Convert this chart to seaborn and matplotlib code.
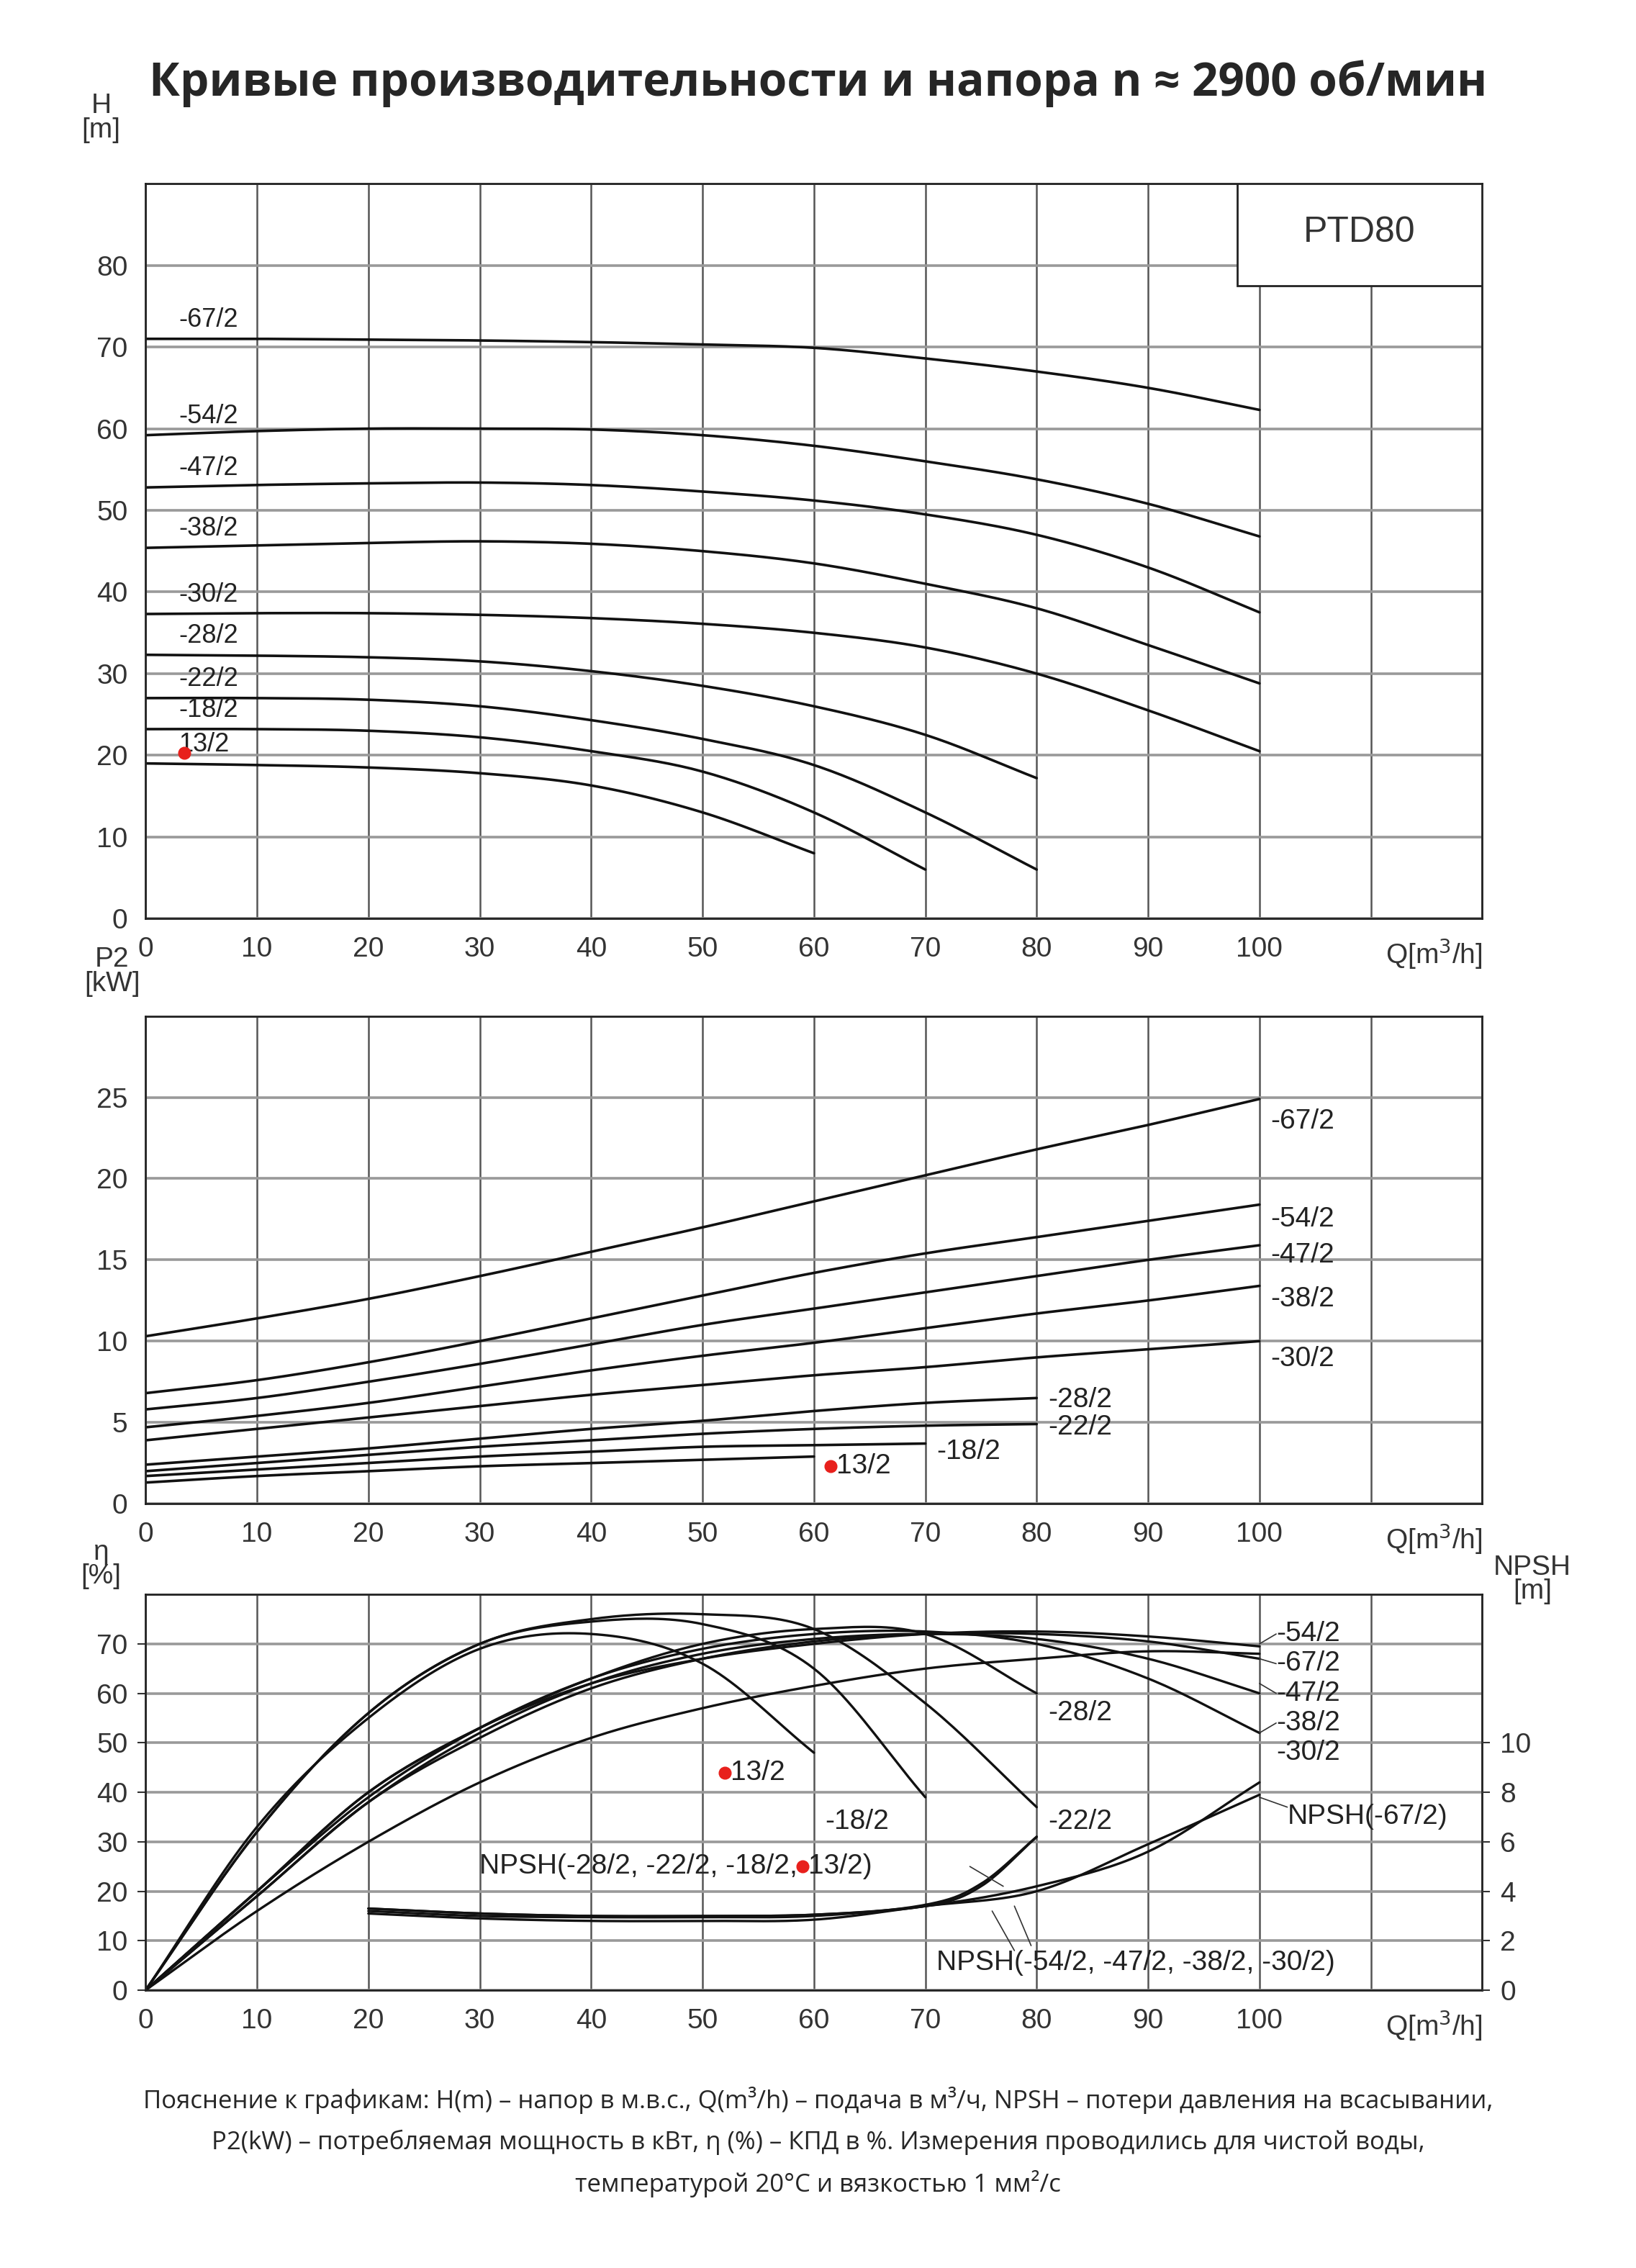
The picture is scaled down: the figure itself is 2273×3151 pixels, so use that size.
import matplotlib
matplotlib.use('Agg')
import matplotlib.pyplot as plt
import numpy as np
import pandas as pd
import seaborn as sns

sns.set_style('white')
plt.rcParams['font.family'] = ['Liberation Sans', 'DejaVu Sans']

# ---- data ----
q = [0, 10, 20, 30, 40, 50, 60, 70, 80, 90, 100]
models = ['-67/2', '-54/2', '-47/2', '-38/2', '-30/2', '-28/2', '-22/2', '-18/2', '13/2']

head = {
    '-67/2': [71, 71, 70.9, 70.8, 70.6, 70.3, 69.9, 68.6, 67, 65, 62.3],
    '-54/2': [59.2, 59.7, 60, 60, 59.9, 59.2, 57.9, 56, 53.8, 50.8, 46.8],
    '-47/2': [52.8, 53.1, 53.3, 53.4, 53.1, 52.3, 51.2, 49.5, 47, 43, 37.5],
    '-38/2': [45.4, 45.7, 46, 46.2, 45.9, 45, 43.5, 41, 38, 33.5, 28.8],
    '-30/2': [37.3, 37.4, 37.4, 37.2, 36.8, 36.1, 35, 33.2, 30, 25.5, 20.5],
    '-28/2': [32.3, 32.2, 32, 31.5, 30.3, 28.5, 26, 22.5, 17.2],
    '-22/2': [27, 27, 26.8, 26, 24.3, 22, 18.8, 13, 6],
    '-18/2': [23.2, 23.2, 23, 22.2, 20.5, 18, 13, 6],
    '13/2': [19, 18.8, 18.5, 17.8, 16.3, 13, 8],
}
power = {
    '-67/2': [10.3, 11.4, 12.6, 14, 15.5, 17, 18.6, 20.2, 21.8, 23.3, 24.9],
    '-54/2': [6.8, 7.6, 8.7, 10, 11.4, 12.8, 14.2, 15.4, 16.4, 17.4, 18.4],
    '-47/2': [5.8, 6.5, 7.5, 8.6, 9.8, 11, 12, 13, 14, 15, 15.9],
    '-38/2': [4.7, 5.4, 6.2, 7.2, 8.2, 9.1, 9.9, 10.8, 11.7, 12.5, 13.4],
    '-30/2': [3.9, 4.6, 5.3, 6, 6.7, 7.3, 7.9, 8.4, 9, 9.5, 10],
    '-28/2': [2.4, 2.9, 3.4, 4, 4.6, 5.1, 5.7, 6.2, 6.5],
    '-22/2': [2.0, 2.5, 3.0, 3.5, 3.9, 4.3, 4.6, 4.8, 4.9],
    '-18/2': [1.7, 2.1, 2.5, 2.9, 3.2, 3.5, 3.6, 3.7],
    '13/2': [1.3, 1.7, 2.0, 2.3, 2.5, 2.7, 2.9],
}
eff = {
    '-67/2': [0, 19, 38, 51, 61, 67, 70.5, 72, 72, 70.5, 67],
    '-54/2': [0, 20, 40, 53, 62, 67, 70, 72, 72.5, 71.5, 69.5],
    '-47/2': [0, 19, 38, 52, 62, 68, 71, 72, 71, 67, 60],
    '-38/2': [0, 20, 39, 53, 63, 69, 72, 72.5, 70, 63, 52],
    '-30/2': [0, 16, 30, 42, 51, 57, 61.5, 65, 67, 68.5, 68],
    '-28/2': [0, 20, 40, 53, 63, 70, 73, 72, 60],
    '-22/2': [0, 32, 56, 70, 75, 76, 73, 58, 37],
    '-18/2': [0, 32, 56, 70, 74.5, 74, 65, 39],
    '13/2': [0, 33, 55, 69, 72, 66, 48],
}
npsh_q_small = [20, 30, 40, 50, 60, 70, 75, 80]
npsh_small = [[3.3, 3.1, 3.0, 3.0, 3.05, 3.4, 4.2, 6.2],
              [3.2, 3.0, 2.95, 2.95, 3.0, 3.45, 4.3, 6.2]]
npsh_q_big = [20, 30, 40, 50, 60, 70, 80, 90, 100]
npsh_big = [[3.3, 3.1, 3.0, 3.0, 3.05, 3.4, 4.2, 5.6, 8.4],
            [3.1, 2.9, 2.8, 2.8, 2.85, 3.4, 4.0, 5.9, 7.9]]


def smooth(xs, ys, n=20):
    # Catmull-Rom through the read points
    xs = np.asarray(xs, float); ys = np.asarray(ys, float)
    px = np.concatenate([[2 * xs[0] - xs[1]], xs, [2 * xs[-1] - xs[-2]]])
    py = np.concatenate([[2 * ys[0] - ys[1]], ys, [2 * ys[-1] - ys[-2]]])
    ox, oy = [], []
    for i in range(1, len(px) - 2):
        t = np.linspace(0, 1, n, endpoint=False)
        for p, o in ((px, ox), (py, oy)):
            p0, p1, p2, p3 = p[i - 1], p[i], p[i + 1], p[i + 2]
            o.extend(0.5 * (2 * p1 + (-p0 + p2) * t + (2 * p0 - 5 * p1 + 4 * p2 - p3) * t ** 2
                            + (-p0 + 3 * p1 - 3 * p2 + p3) * t ** 3))
    ox.append(xs[-1]); oy.append(ys[-1])
    return np.array(ox), np.array(oy)


def long_df(d, xs=q):
    rows = []
    for m, vals in d.items():
        sx, sy = smooth(xs[:len(vals)], vals)
        rows.append(pd.DataFrame({'Q': sx, 'v': sy, 'model': m}))
    return pd.concat(rows)


fig = plt.figure(figsize=(22.73, 31.51), dpi=100)
fs = 28
lfs = 28
ax1 = fig.add_axes([0.089, 0.595, 0.817, 0.324])
ax2 = fig.add_axes([0.089, 0.337, 0.817, 0.215])
ax3 = fig.add_axes([0.089, 0.1225, 0.817, 0.1745])


def frame(ax, ymax, ystep, grid_step):
    ax.set_xlim(0, 120)
    ax.set_ylim(0, ymax)
    for x in range(0, 121, 10):
        ax.axvline(x, color='#555555', lw=1.8, zorder=0)
    for y in np.arange(0, ymax + 0.01, grid_step):
        ax.axhline(y, color='#999999', lw=2.6, zorder=0)
    ax.set_xticks(range(0, 101, 10))
    ax.set_yticks(np.arange(0, ymax - 0.01, ystep) if ystep else [])
    ax.tick_params(labelsize=fs, length=8, width=1.5, colors='#333333', direction='out', pad=10)
    for s in ax.spines.values():
        s.set_color('#222222'); s.set_linewidth(2)
    ax.set_xlabel(''); ax.set_ylabel('')
    ax.text(120, 0, 'Q[m$^3$/h]', ha='right', va='top', fontsize=fs, color='#333333',
            transform=ax.get_xaxis_transform() + matplotlib.transforms.ScaledTranslation(0, -18 / 72, fig.dpi_scale_trans))


pal = {m: '#111111' for m in models}

# --- H(Q) ---
sns.lineplot(data=long_df(head), x='Q', y='v', hue='model', palette=pal, lw=2.6,
             legend=False, ax=ax1, sort=False, estimator=None)
frame(ax1, 90, 10, 10)
ax1.text(-4, 95, 'H\n[m]', ha='center', va='bottom', fontsize=fs, color='#333333', linespacing=0.9)
for m in models:
    ax1.text(3, head[m][0] + 0.8, m, fontsize=lfs - 2, va='bottom', color='#222222')
ax1.plot(3.5, 20.3, 'o', color='#e8201c', ms=12, zorder=5)
ax1.add_patch(plt.Rectangle((98, 77.5), 22, 12.5, fill=True, fc='white', ec='#222222', lw=2, zorder=3))
ax1.text(109, 84, 'PTD80', ha='center', va='center', fontsize=fs + 8, color='#333333', zorder=4)

# --- P2(Q) ---
sns.lineplot(data=long_df(power), x='Q', y='v', hue='model', palette=pal, lw=2.6,
             legend=False, ax=ax2, sort=False, estimator=None)
frame(ax2, 30, 5, 5)
ax2.text(-3, 31.2, 'P2\n[kW]', ha='center', va='bottom', fontsize=fs, color='#333333', linespacing=0.9)
for m, x, y in [('-67/2', 101, 23.5), ('-54/2', 101, 17.5), ('-47/2', 101, 15.3),
                ('-38/2', 101, 12.6), ('-30/2', 101, 8.9), ('-28/2', 81, 6.4),
                ('-22/2', 81, 4.7), ('-18/2', 71, 3.2), ('13/2', 62, 2.3)]:
    ax2.text(x, y, m, fontsize=lfs, va='center', color='#222222')
ax2.plot(61.5, 2.3, 'o', color='#e8201c', ms=12, zorder=5)

# --- eta(Q) and NPSH ---
sns.lineplot(data=long_df(eff), x='Q', y='v', hue='model', palette=pal, lw=2.4,
             legend=False, ax=ax3, sort=False, estimator=None)
for ys in npsh_small:
    sx, sy = smooth(npsh_q_small, ys)
    ax3.plot(sx, sy * 5, color='#111111', lw=2.4)
for ys in npsh_big:
    sx, sy = smooth(npsh_q_big, ys)
    ax3.plot(sx, sy * 5, color='#111111', lw=2.4)
frame(ax3, 80, 10, 10)
ax3.text(-4, 81, 'η\n[%]', ha='center', va='bottom', fontsize=fs, color='#333333', linespacing=0.9)
ax3r = ax3.twinx()
ax3r.set_ylim(0, 16)
ax3r.set_yticks(range(0, 11, 2))
ax3r.tick_params(labelsize=fs, length=8, width=1.5, colors='#333333', pad=10)
for s in ax3r.spines.values():
    s.set_visible(False)
ax3.text(124.5, 78, 'NPSH\n[m]', ha='center', va='bottom', fontsize=fs, color='#333333',
         linespacing=0.9, clip_on=False)
for m, x, y in [('-54/2', 101.5, 72), ('-67/2', 101.5, 66), ('-47/2', 101.5, 60),
                ('-38/2', 101.5, 54), ('-30/2', 101.5, 48), ('-28/2', 81, 56),
                ('-18/2', 61, 34), ('-22/2', 81, 34), ('13/2', 52.5, 44),
                ('NPSH(-67/2)', 102.5, 35), ('13/2)', 59.5, 25),
                ('NPSH(-54/2, -47/2, -38/2, -30/2)', 71, 5.5)]:
    ax3.text(x, y, m, fontsize=lfs, va='center', color='#222222')
ax3.text(58.5, 25, 'NPSH(-28/2, -22/2, -18/2,', fontsize=lfs, va='center', ha='right', color='#222222')
ax3.plot(52, 44, 'o', color='#e8201c', ms=12, zorder=5)
ax3.plot(59, 25, 'o', color='#e8201c', ms=12, zorder=5)
for (x0, y0, x1, y1) in [(100, 70, 101.5, 72), (100, 67, 101.5, 66), (100, 62, 101.5, 60),
                         (100, 52, 101.5, 54), (100, 39, 102.5, 37), (74, 25, 77, 21),
                         (78, 17, 79.5, 9), (76, 16, 78, 8)]:
    ax3.plot([x0, x1], [y0, y1], color='#333333', lw=1.2)

fig.text(0.5, 0.963, 'Кривые производительности и напора n ≈ 2900 об/мин', ha='center', va='center',
         fontsize=46, fontweight='bold', family=['Open Sans', 'DejaVu Sans'])
foot = ['Пояснение к графикам: H(m) – напор в м.в.с., Q(m³/h) – подача в м³/ч, NPSH – потери давления на всасывании,',
        'P2(kW) – потребляемая мощность в кВт, η (%) – КПД в %. Измерения проводились для чистой воды,',
        'температурой 20°C и вязкостью 1 мм²/с']
for i, line in enumerate(foot):
    fig.text(0.5, 0.074 - i * 0.0185, line, ha='center', va='center', fontsize=25,
             family=['Open Sans', 'DejaVu Sans'])

fig.savefig('out.png', dpi=100, facecolor='white')
